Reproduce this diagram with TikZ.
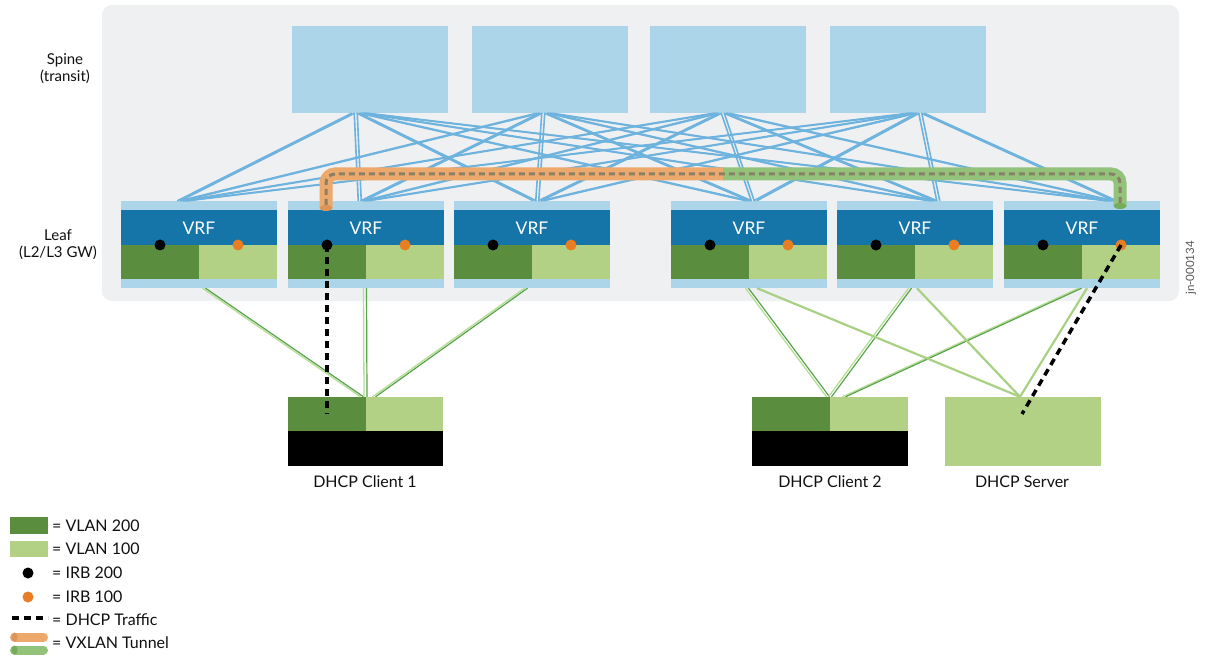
\documentclass[tikz,border=0pt]{standalone}
\usepackage{fontspec}
\setmainfont{Lato}
\usetikzlibrary{calc}
\definecolor{panel}{HTML}{EFF0F2}
\definecolor{lblue}{HTML}{ACD5EA}
\definecolor{vrfblue}{HTML}{1675A8}
\definecolor{vdark}{HTML}{5A8E3E}
\definecolor{vlight}{HTML}{B2D184}
\definecolor{irbor}{HTML}{E87D24}
\definecolor{slink}{HTML}{6DB3DD}
\definecolor{gdark}{HTML}{55A64A}
\definecolor{glight}{HTML}{BADC98}
\definecolor{gsrv}{HTML}{A9D184}
\definecolor{tunO}{HTML}{EDA86C}
\definecolor{tunOedge}{HTML}{DE9456}
\definecolor{tunG}{HTML}{93C27A}
\definecolor{tunGedge}{HTML}{76AB5C}
\definecolor{tundash}{HTML}{8A8066}
\definecolor{txt}{HTML}{111111}
\begin{document}
\begin{tikzpicture}[x=1pt,y=-1pt,
  spinebox/.style={fill=lblue,draw=none,minimum width=156,minimum height=87,inner sep=0},
  leafbox/.style={fill=lblue,draw=none,minimum width=156,minimum height=87,inner sep=0},
  hostbox/.style={draw=none,minimum width=156,minimum height=69,inner sep=0},
  dotnode/.style={circle,minimum size=11,inner sep=0,draw=none},
  spl/.style={draw=slink,line width=1.6},
  gl/.style={draw=glight,line width=1.3},
  gd/.style={draw=gdark,line width=1.2},
  gs/.style={draw=gsrv,line width=2.2},
  dhcp/.style={draw=black,line width=3.5,dash pattern=on 7 off 5},
  vrftext/.style={text=white,font=\fontsize{17.5}{19}\selectfont},
  lbl/.style={text=txt,font=\fontsize{16}{18}\selectfont},
  leg/.style={text=txt,anchor=west,font=\fontsize{16}{18}\selectfont,inner sep=0},
  side/.style={text=txt,align=center,font=\fontsize{15}{17}\selectfont},
]
\useasboundingbox (0,0) rectangle (1209,660);
\fill[white] (0,0) rectangle (1209,660);
\fill[panel,rounded corners=10] (102,5) rectangle (1179,301);

% spines
\foreach \i/\cx in {1/370,2/550,3/728,4/908}
  \node[spinebox] (S\i) at (\cx,69.5) {};

% leaves
\foreach \i/\cx in {1/199,2/366,3/532,4/749,5/915,6/1082}{
  \node[leafbox] (L\i) at (\cx,244.5) {};
  \fill[vrfblue] (\cx-78,210) rectangle (\cx+78,245);
  \fill[vdark] (\cx-78,245) rectangle (\cx,279);
  \fill[vlight] (\cx,245) rectangle (\cx+78,279);
  \node[vrftext] (V\i) at (\cx,228) {VRF};
  \node[dotnode,fill=black] (B\i) at (\cx-39,245) {};
  \node[dotnode,fill=irbor] (O\i) at (\cx+39,245) {};
}

% spine-leaf links
\foreach \i/\so in {1/-12,2/-7,3/-8,4/7}{
  \foreach \j/\lo in {1/-18,2/-4,3/5,4/1,5/18,6/28}{
    \draw[spl] ($(S\i.south)+(\so+2.5*\j-8.75,0)$) -- ($(L\j.north)+(\lo+2.5*\i-6.25,0)$);
    \draw[spl] ($(S\i.south)+(\so+2.5*\j-5.75,0)$) -- ($(L\j.north)+(\lo+2.5*\i-3.25,0)$);
  }
}

% VXLAN tunnel
\draw[line width=13,draw=tunO,rounded corners=9] (326,208) -- (326,174) -- (724,174);
\fill[tunOedge] (326,208) ellipse [x radius=6.5,y radius=3];
\draw[line width=13,draw=tunG,rounded corners=9] (723,174) -- (1120,174) -- (1120,206);
\fill[tunGedge] (1120,206) ellipse [x radius=6.5,y radius=3];
\draw[line width=3,draw=tundash,dash pattern=on 6 off 4,rounded corners=9] (326,205) -- (326,174) -- (1120,174) -- (1120,203);

% hosts
\node[hostbox] (C1) at (365.5,431.5) {};
\fill[vdark] (288,397) rectangle (366,431);
\fill[vlight] (366,397) rectangle (443,431);
\fill[black] (288,431) rectangle (443,466);
\node[hostbox] (C2) at (830,431.5) {};
\fill[vdark] (752,397) rectangle (830,431);
\fill[vlight] (830,397) rectangle (908,431);
\fill[black] (752,431) rectangle (908,466);
\node[hostbox,fill=vlight] (SRV) at (1022.5,431.5) {};

% leaf-host links
\foreach \l/\a/\h/\b in {1/5/C1/-3.5, 2/-1/C1/0, 3/-6/C1/8.5, 4/-2/C2/-2, 5/-5/C2/0, 6/-2/C2/14}{
  \draw[gl] ($(L\l.south)+(\a-1.5,0)$) -- ($(\h.north)+(\b-1.5,0)$);
  \draw[gd] ($(L\l.south)+(\a+1.5,0)$) -- ($(\h.north)+(\b+1.5,0)$);
}
\foreach \l/\a in {4/8,5/2,6/5}
  \draw[gs] ($(L\l.south)+(\a,0)$) -- ($(SRV.north)+(-2.5,0)$);

% DHCP traffic
\coordinate (d1) at (327,414);
\coordinate (d2) at (1022,414);
\draw[dhcp] (B2.center) -- (d1);
\draw[dhcp] (O6.center) -- (d2);

% labels
\node[lbl] (t1) at (365,482) {DHCP Client 1};
\node[lbl] (t2) at (830,482) {DHCP Client 2};
\node[lbl] (t3) at (1022,482) {DHCP Server};
\node[side] (sp) at (65,69) {Spine\\(transit)};
\node[side] (lf) at (58,245) {Leaf\\(L2/L3 GW)};
\node[rotate=90,text=black!65,font=\fontsize{11.5}{13}\selectfont] (jn) at (1191,268) {jn-000134};

% legend
\fill[vdark] (10,517) rectangle (48,534);
\fill[vlight] (10,541) rectangle (48,557);
\node[dotnode,fill=black] (lb) at (28,573) {};
\node[dotnode,fill=irbor] (lo) at (28,597) {};
\coordinate (ld1) at (12,618);
\coordinate (ld2) at (48,618);
\draw[dhcp] (ld1) -- (ld2);
\draw[line width=9,draw=tunO,line cap=round] (14.5,637) -- (43.5,637);
\fill[tunOedge] (14.5,637) ellipse [x radius=3,y radius=4.5];
\draw[line width=9,draw=tunG,line cap=round] (14.5,650) -- (43.5,650);
\fill[tunGedge] (14.5,650) ellipse [x radius=3,y radius=4.5];
\node[leg] at (52,525.5) {= VLAN 200};
\node[leg] at (52,549) {= VLAN 100};
\node[leg] at (52,573) {= IRB 200};
\node[leg] at (52,597) {= IRB 100};
\node[leg] at (52,619.5) {= DHCP Traffic};
\node[leg] at (52,643) {= VXLAN Tunnel};
\end{tikzpicture}
\end{document}
